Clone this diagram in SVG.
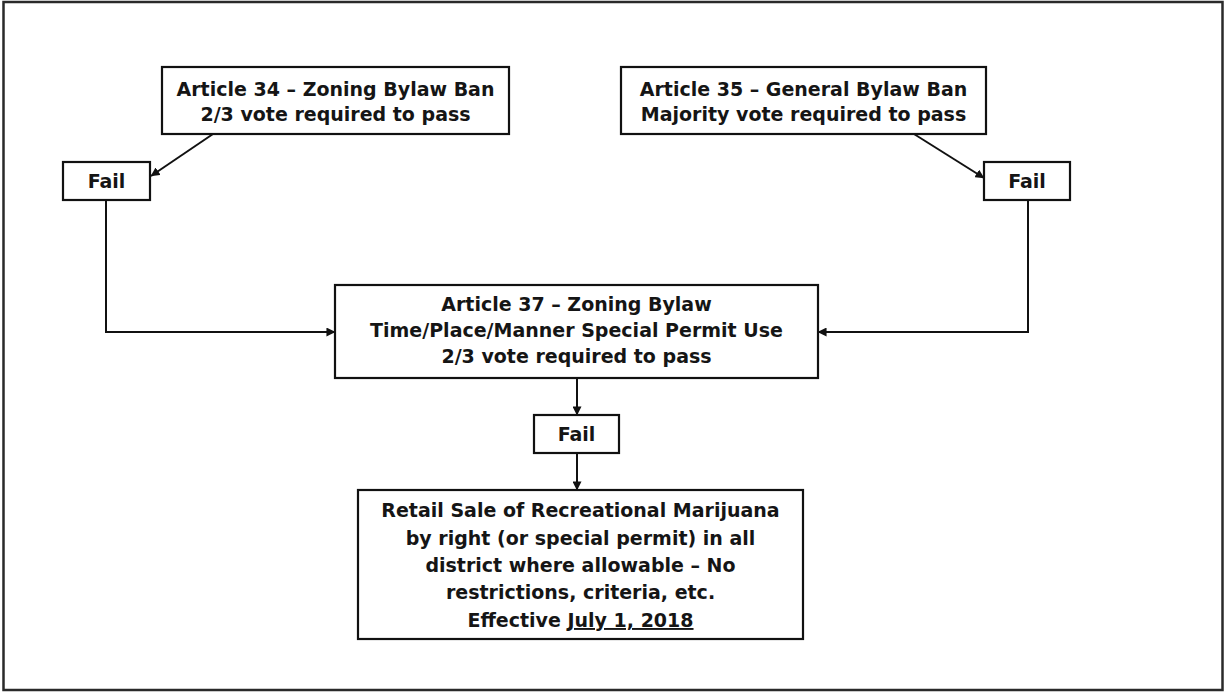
<svg xmlns="http://www.w3.org/2000/svg" width="1225" height="692" viewBox="0 0 1225 692">
  <defs>
    <style>
      .box { fill: #ffffff; stroke: #111111; stroke-width: 2.2; }
      .frame { fill: #ffffff; stroke: #2a2a2a; stroke-width: 2.5; }
      .lbl { font-family: "DejaVu Sans", "Liberation Sans", sans-serif; font-weight: bold; font-size: 19px; fill: #151515; text-anchor: middle; }
      .wire { fill: none; stroke: #111111; stroke-width: 2; marker-end: url(#tip); }
    </style>
    <marker id="tip" viewBox="0 0 10 10" refX="9.5" refY="5" markerWidth="4.5" markerHeight="4.5" orient="auto" markerUnits="strokeWidth">
      <path d="M0,0 L10,5 L0,10 Z" fill="#111111"/>
    </marker>
  </defs>

  <!-- page border -->
  <rect class="frame" x="3.5" y="2" width="1219" height="688"/>

  <!-- connectors -->
  <g id="connectors">
    <path class="wire" d="M213,134 L151,176"/>
    <path class="wire" d="M914,134 L984,178"/>
    <path class="wire" d="M106,200 V332 H335"/>
    <path class="wire" d="M1028,200 V332 H818"/>
    <path class="wire" d="M577,378 V415"/>
    <path class="wire" d="M577,453 V490"/>
  </g>

  <!-- Article 34 -->
  <g id="article34">
    <rect class="box" x="162" y="67" width="347" height="67"/>
    <text class="lbl" x="335.5" y="96">Article 34 – Zoning Bylaw Ban</text>
    <text class="lbl" x="335.5" y="121">2/3 vote required to pass</text>
  </g>

  <!-- Article 35 -->
  <g id="article35">
    <rect class="box" x="621" y="67" width="365" height="67"/>
    <text class="lbl" x="803.5" y="96">Article 35 – General Bylaw Ban</text>
    <text class="lbl" x="803.5" y="121">Majority vote required to pass</text>
  </g>

  <!-- Fail (left) -->
  <g id="fail-left">
    <rect class="box" x="63" y="162" width="87" height="38"/>
    <text class="lbl" x="106.5" y="188">Fail</text>
  </g>

  <!-- Fail (right) -->
  <g id="fail-right">
    <rect class="box" x="984" y="162" width="86" height="38"/>
    <text class="lbl" x="1027" y="188">Fail</text>
  </g>

  <!-- Article 37 -->
  <g id="article37">
    <rect class="box" x="335" y="285" width="483" height="93"/>
    <text class="lbl" x="576.5" y="311">Article 37 – Zoning Bylaw</text>
    <text class="lbl" x="576.5" y="337">Time/Place/Manner Special Permit Use</text>
    <text class="lbl" x="576.5" y="363">2/3 vote required to pass</text>
  </g>

  <!-- Fail (middle) -->
  <g id="fail-middle">
    <rect class="box" x="534" y="415" width="85" height="38"/>
    <text class="lbl" x="576.5" y="441">Fail</text>
  </g>

  <!-- Outcome -->
  <g id="outcome">
    <rect class="box" x="358" y="490" width="445" height="149"/>
    <text class="lbl" x="580.5" y="517">Retail Sale of Recreational Marijuana</text>
    <text class="lbl" x="580.5" y="545">by right (or special permit) in all</text>
    <text class="lbl" x="580.5" y="572">district where allowable – No</text>
    <text class="lbl" x="580.5" y="599">restrictions, criteria, etc.</text>
    <text class="lbl" x="580.5" y="627">Effective <tspan text-decoration="underline">July 1, 2018</tspan></text>
  </g>
</svg>
